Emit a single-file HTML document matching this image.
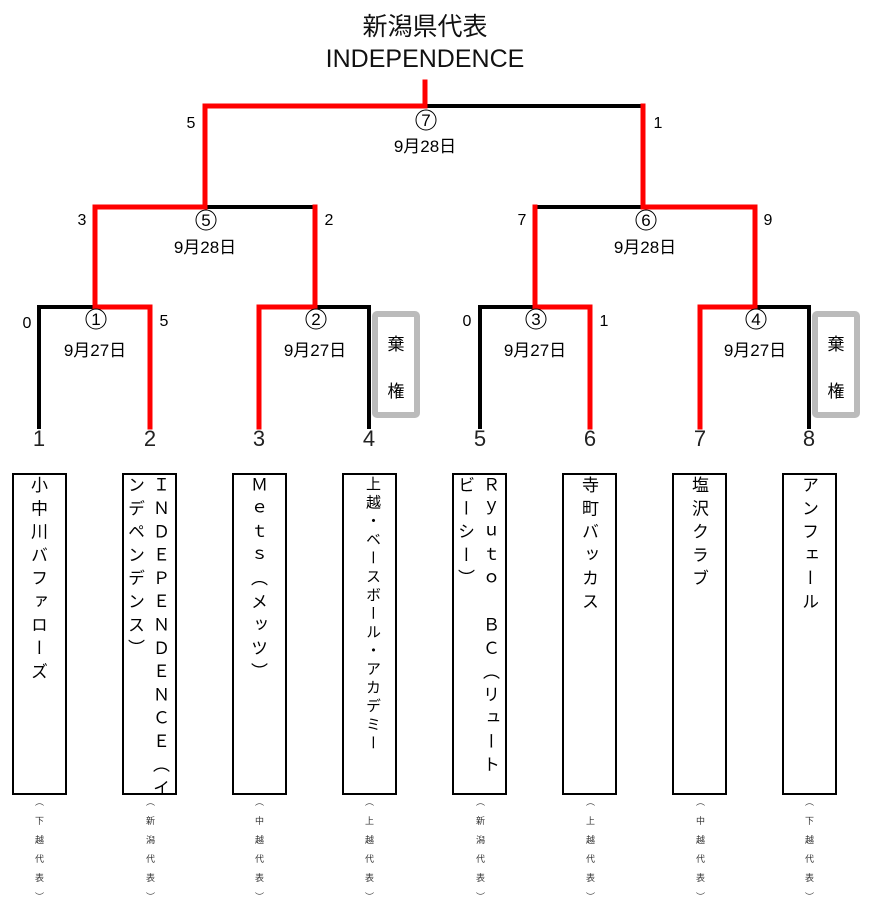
<!DOCTYPE html>
<html><head><meta charset="utf-8"><style>
body{margin:0;background:#fff;width:881px;height:917px;position:relative;overflow:hidden;font-family:"Liberation Sans","Noto Sans CJK JP",sans-serif}
svg{position:absolute;left:0;top:0}
.box{position:absolute;top:473px;width:51px;height:318px;border:2px solid #000;}
.vt{position:absolute;top:476px;writing-mode:vertical-rl;text-orientation:upright;font-size:17px;letter-spacing:6.3px;line-height:25px;white-space:nowrap;color:#000;font-family:"Noto Sans CJK JP",sans-serif}
.sm{position:absolute;top:797px;writing-mode:vertical-rl;text-orientation:upright;font-size:9px;letter-spacing:10px;line-height:10px;color:#333;font-family:"Noto Sans CJK JP",sans-serif}
</style></head><body>
<svg width="881" height="917" font-family="Liberation Sans, Noto Sans CJK JP, sans-serif">
<g fill="none" stroke-linecap="square">
<g stroke="#000" stroke-width="4">
<path d="M39 427V307H95"/>
<path d="M315 307H369V427"/>
<path d="M205 207H315"/>
<path d="M425 106H643"/>
<path d="M480 427V307H535"/>
<path d="M535 207H643"/>
<path d="M755 307H809V427"/>
</g>
<g stroke="#f00" stroke-width="5">
<path d="M150 427V307H95V207H205V106H425V82"/>
<path d="M259 427V307H315V207"/>
<path d="M590 427V307H535V207"/>
<path d="M700 427V307H755V207H643V106"/>
</g>
<rect x="375" y="314" width="42" height="101" stroke="#bbb" stroke-width="6" rx="2"/>
<rect x="815" y="314" width="42" height="101" stroke="#bbb" stroke-width="6" rx="2"/>
<g stroke="#000" stroke-width="1" fill="#fff">
<circle cx="426" cy="120" r="10"/>
<circle cx="206" cy="220" r="10"/>
<circle cx="646" cy="220" r="10"/>
<circle cx="96" cy="319" r="10"/>
<circle cx="316" cy="319" r="10"/>
<circle cx="536" cy="319" r="10"/>
<circle cx="756" cy="319" r="10"/>
</g>
</g>
<g font-size="25" text-anchor="middle" fill="#111">
<text x="425" y="35">新潟県代表</text>
<text x="425" y="67">INDEPENDENCE</text>
</g>
<g font-size="17" text-anchor="middle" fill="#000">
<text x="426" y="126">7</text>
<text x="206" y="226">5</text>
<text x="646" y="226">6</text>
<text x="96" y="325">1</text>
<text x="316" y="325">2</text>
<text x="536" y="325">3</text>
<text x="756" y="325">4</text>
</g>
<g font-size="17" text-anchor="middle" fill="#000">
<text x="425" y="152">9月28日</text>
<text x="205" y="253">9月28日</text>
<text x="645" y="253">9月28日</text>
<text x="95" y="356">9月27日</text>
<text x="315" y="356">9月27日</text>
<text x="535" y="356">9月27日</text>
<text x="755" y="356">9月27日</text>
<text x="396" y="350">棄</text><text x="396" y="397">権</text>
<text x="836" y="350">棄</text><text x="836" y="397">権</text>
</g>
<g font-size="16" text-anchor="middle" fill="#000">
<text x="191" y="128">5</text><text x="658" y="128">1</text>
<text x="82" y="225">3</text><text x="329" y="225">2</text>
<text x="522" y="225">7</text><text x="768" y="225">9</text>
<text x="27" y="328">0</text><text x="164" y="326">5</text>
<text x="467" y="326">0</text><text x="604" y="326">1</text>
</g>
<g font-size="22" text-anchor="middle" fill="#222">
<text x="39" y="446">1</text><text x="150" y="446">2</text><text x="259" y="446">3</text><text x="369" y="446">4</text>
<text x="480" y="446">5</text><text x="590" y="446">6</text><text x="700" y="446">7</text><text x="809" y="446">8</text>
</g>
</svg>
<div class="box" style="left:12px"></div>
<div class="box" style="left:122px"></div>
<div class="box" style="left:232px"></div>
<div class="box" style="left:342px"></div>
<div class="box" style="left:452px"></div>
<div class="box" style="left:562px"></div>
<div class="box" style="left:672px"></div>
<div class="box" style="left:782px"></div>

<div class="vt" style="left:27px">小中川バファローズ</div>
<div class="vt" style="left:124px">ＩＮＤＥＰＥＮＤＥＮＣＥ（イ<br>ンデペンデンス）</div>
<div class="vt" style="left:247px">Ｍｅｔｓ（メッツ）</div>
<div class="vt" style="left:361px;font-size:15px;letter-spacing:3.5px">上越・ベースボール・アカデミー</div>
<div class="vt" style="left:454px">Ｒｙｕｔｏ　ＢＣ（リュート<br>ビーシー）</div>
<div class="vt" style="left:578px">寺町バッカス</div>
<div class="vt" style="left:688px">塩沢クラブ</div>
<div class="vt" style="left:798px">アンフェール</div>

<div class="sm" style="left:34px">︵下越代表︶</div>
<div class="sm" style="left:145px">︵新潟代表︶</div>
<div class="sm" style="left:254px">︵中越代表︶</div>
<div class="sm" style="left:364px">︵上越代表︶</div>
<div class="sm" style="left:475px">︵新潟代表︶</div>
<div class="sm" style="left:585px">︵上越代表︶</div>
<div class="sm" style="left:695px">︵中越代表︶</div>
<div class="sm" style="left:804px">︵下越代表︶</div>
</body></html>
